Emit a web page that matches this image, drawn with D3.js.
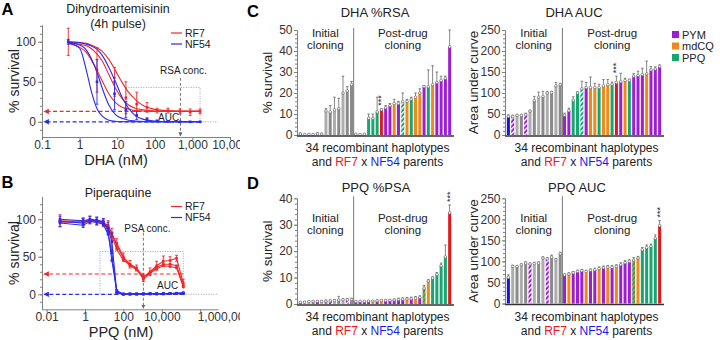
<!DOCTYPE html>
<html>
<head>
<meta charset="utf-8">
<script src="https://cdn.jsdelivr.net/npm/d3@7"></script>
<style>
body { margin: 0; background: #fff; }
svg { font-family: "Liberation Sans", Arial, sans-serif; }
.ax path, .ax line { stroke: #808080; }
.ax text { fill: #333; font-size: 12px; }
</style>
</head>
<body>
<div id="chart"></div>
<script>
// ---------- panel A : DHA 4h pulse dose response ----------
var dhaCurveConc = [0.5, 1, 1.5, 2, 3, 4, 6, 9, 14, 20, 30, 50, 100, 200, 500, 1600];
var dhaCurvesRF7 = [
    [98, 93, 87, 78, 63, 51, 35, 24, 18, 16, 14, 13.5, 13, 13, 13, 13],
    [99, 97, 95, 92, 84, 76, 59, 42, 28, 21, 17, 15, 13.5, 13, 13, 13],
    [100, 99, 98, 96, 92, 88, 78, 64, 48, 37, 28, 20, 15.5, 14, 13, 13]
];
var dhaCurvesNF54 = [
    [99, 92, 65, 40, 15, 7, 2, 0.6, 0.2, 0, 0, 0, 0, 0, 0, 0],
    [99.5, 96, 90, 80, 60, 42, 21, 9, 4, 2, 1, 0.3, 0, 0, 0, 0],
    [100, 99, 97, 95, 90, 83, 68, 50, 29, 17, 8, 3, 1, 0, 0, 0]
];
var dhaConc = [0.5, 2.9, 8.5, 17, 33, 62, 115, 225, 470, 870, 1600];
var dhaRF7 = [100, 65, 50, 30, 22, 18, 14, 14, 13, 12, 13];
var dhaRF7Err = [17, 28, 18, 20, 15, 6, 3, 3, 3, 4, 3];
var dhaNF54 = [100, 50, 35, 15, 8, 3, 1, 0.5, 0, 0, 0];
var dhaNF54Err = [3, 28, 20, 10, 5, 2, 1, 0.5, 0.5, 0.5, 0.5];
var dhaBottom = [13, 0];          // RF7, NF54 survival level (dashed arrows)
var rsaConc = 480;
var dhaAucBox = [17, 1600, 43];   // from conc, to conc, top %

// ---------- panel B : piperaquine dose response ----------
var ppqConc = [0.05, 0.8, 1.8, 4.1, 9, 16, 25, 45, 100, 220, 490, 1100, 2450, 5400, 12000, 27000, 59000, 132000];
var ppqRF7 = [
    [98, 97, 99, 97, 95, 92, 80, 68, 50, 40, 35, 22, 30, 38, 44, 45, 48, 15],
    [97, 95, 98, 98, 96, 90, 82, 65, 48, 38, 33, 20, 28, 36, 40, 40, 38, 12],
    [96, 98, 97, 96, 94, 88, 78, 60, 45, 40, 33, 24, 28, 34, 38, 37, 35, 10]
];
var ppqNF54 = [
    [97, 95, 99, 98, 96, 88, 70, 3, 0.5, 0.5, 0.5, 0.5, 1, 0.5, 1, 1, 1, 1.5],
    [95, 92, 97, 96, 93, 80, 55, 2, 0, 0, 0, 0.5, 0.5, 0.5, 0.5, 1, 1, 1],
    [100, 98, 100, 99, 97, 84, 45, 5, 0, 0.5, 0.5, 0.5, 0.5, 1, 0.5, 1, 1.5, 2]
];
var ppqRF7Err = [8, 5, 5, 5, 5, 6, 8, 6, 5, 5, 4, 5, 5, 6, 7, 5, 4, 5];
var ppqNF54Err = [7, 6, 5, 5, 5, 8, 12, 3, 1, 1, 1, 1, 1, 1, 1, 1, 1, 1];
var ppqBottom = [27, 0];
var psaConc = 1100;
var ppqAucBox = [6, 132000, 57];

// ---------- bar panels : 34 recombinant haplotypes + 2 parents ----------
// N NF54, R RF7, G/D grey, P PYM, O mdCQ, Q PPQ, p/q hatched PYM/PPQ, x hatched PPQ/mdCQ
var nInitial = 13;
var dhaRsaVals = [0.5, 0.2, 0.3, 0.2, 0.6, 0.4, 11.5, 11, 12, 12.5, 20, 21, 24,
    0.4, 0.2, 0.4, 8, 8, 11, 12, 13, 14, 15, 15, 16, 16, 17, 18, 20, 23, 23, 24, 25, 26, 27, 42];
var dhaRsaErr = [0.5, 0.3, 0.3, 0.3, 0.5, 0.5, 1, 3, 6, 5, 8, 2, 1.5,
    0.3, 0.3, 0.3, 2, 2, 7, 0.5, 1, 1, 2, 1, 4, 1, 1, 2, 2, 0.5, 8, 9, 5, 2, 1, 8];
var dhaRsaCats = ['N', 'G', 'p', 'G', 'p', 'G', 'G', 'D', 'G', 'D', 'G', 'D', 'D',
    'P', 'P', 'O', 'Q', 'Q', 'Q', 'R', 'P', 'P', 'O', 'P', 'q', 'O', 'Q', 'O', 'O', 'P', 'Q', 'O', 'P', 'P', 'P', 'P'];

var dhaAucVals = [44, 44, 47, 47, 48, 57, 82, 90, 92, 100, 101, 117, 120,
    47, 58, 83, 100, 110, 113, 113, 113, 113, 117, 120, 121, 125, 127, 130, 130, 140, 142, 144, 146, 155, 157, 163];
var dhaAucErr = [4, 3, 2, 2, 4, 2, 10, 12, 12, 3, 3, 8, 3,
    5, 6, 8, 3, 18, 12, 25, 10, 8, 15, 12, 5, 15, 20, 5, 3, 6, 10, 15, 30, 8, 5, 4];
var dhaAucCats = ['N', 'p', 'G', 'D', 'p', 'G', 'D', 'G', 'D', 'G', 'D', 'G', 'D',
    'P', 'P', 'Q', 'Q', 'q', 'P', 'O', 'O', 'Q', 'O', 'O', 'Q', 'R', 'P', 'O', 'Q', 'P', 'P', 'P', 'O', 'P', 'P', 'P'];

var ppqPsaVals = [0.6, 0.7, 0.9, 1, 1, 1, 1.1, 1.2, 1.3, 1.5, 1.6, 1.6, 1.7,
    0.9, 1, 1, 1.1, 1.1, 1.2, 1.3, 1.3, 1.4, 1.5, 1.7, 1.8, 1.9, 2, 2.2, 2.5, 6, 8.7, 9.8, 11.2, 14.5, 17.8, 34.5];
var ppqPsaErr = [0.3, 0.3, 0.3, 0.3, 0.3, 0.3, 0.4, 0.3, 0.4, 1.4, 0.4, 0.5, 0.5,
    0.2, 0.2, 0.2, 0.2, 0.2, 0.3, 0.3, 0.3, 0.3, 0.4, 0.5, 0.5, 0.5, 0.6, 0.6, 0.6, 1, 0.5, 0.5, 0.7, 1, 4.5, 3];
var ppqPsaCats = ['N', 'G', 'G', 'D', 'P', 'G', 'D', 'p', 'G', 'D', 'G', 'p', 'D',
    'P', 'P', 'P', 'P', 'O', 'P', 'O', 'P', 'P', 'P', 'P', 'P', 'O', 'P', 'O', 'P', 'x', 'O', 'Q', 'Q', 'Q', 'Q', 'R'];

var ppqAucVals = [62, 88, 88, 92, 96, 94, 95, 96, 108, 106, 110, 104, 118,
    68, 70, 73, 76, 78, 76, 79, 80, 83, 85, 86, 86, 88, 92, 97, 100, 103, 108, 128, 133, 136, 155, 185];
var ppqAucErr = [6, 3, 2, 2, 3, 2, 3, 3, 3, 3, 5, 3, 4,
    2, 3, 3, 3, 3, 3, 3, 4, 4, 4, 4, 4, 4, 5, 5, 4, 6, 4, 5, 6, 5, 8, 12];
var ppqAucCats = ['N', 'G', 'D', 'G', 'D', 'p', 'G', 'D', 'G', 'p', 'D', 'G', 'D',
    'P', 'O', 'P', 'P', 'P', 'O', 'P', 'P', 'O', 'P', 'O', 'P', 'O', 'P', 'P', 'P', 'x', 'O', 'Q', 'Q', 'Q', 'Q', 'R'];

var legendNames = ['PYM', 'mdCQ', 'PPQ'];
var legendCats = ['P', 'O', 'Q'];

var catColor = {
    N: '#1414e0', R: '#e5161d', G: '#adadad', D: '#8a8a8a',
    P: '#9a1fd3', O: '#f0891a', Q: '#17a673',
    p: 'url(#hatchP)', q: 'url(#hatchQ)', x: 'url(#hatchX)'
};
var red = '#f0282d', blue = '#2a2af0';

var svg = d3.select('#chart').append('svg').attr('width', 720).attr('height', 340);
svg.append('rect').attr('width', 720).attr('height', 340).attr('fill', '#fff');
var defs = svg.append('defs');
defs.append('clipPath').attr('id', 'leftClip').append('rect').attr('width', 240).attr('height', 340);

function hatch(id, bg, fg) {
    var p = defs.append('pattern').attr('id', id).attr('patternUnits', 'userSpaceOnUse')
        .attr('width', 3.4).attr('height', 3.4).attr('patternTransform', 'rotate(45)');
    p.append('rect').attr('width', 3.4).attr('height', 3.4).attr('fill', bg);
    p.append('rect').attr('width', 1.3).attr('height', 3.4).attr('fill', fg);
}
hatch('hatchP', '#9a1fd3', '#fff');
hatch('hatchQ', '#17a673', '#fff');
hatch('hatchX', '#17a673', '#f0891a');

function arrowMarker(id, color) {
    defs.append('marker').attr('id', id).attr('viewBox', '0 0 10 10')
        .attr('refX', 9).attr('refY', 5).attr('markerWidth', 4.5).attr('markerHeight', 4.5)
        .attr('orient', 'auto')
        .append('path').attr('d', 'M0,0L10,5L0,10z').attr('fill', color);
}
arrowMarker('arRed', red);
arrowMarker('arBlue', blue);
arrowMarker('arGrey', '#666');

function label(g, txt, x, y, size, opts) {
    opts = opts || {};
    return g.append('text').attr('x', x).attr('y', y).text(txt)
        .attr('font-size', size).attr('fill', opts.fill || '#222')
        .attr('font-weight', opts.bold ? 'bold' : null)
        .attr('text-anchor', opts.anchor || 'middle');
}

// ---------------- dose-response panels ----------------
function dosePanel(p) {
    var g = svg.append('g').attr('clip-path', 'url(#leftClip)');
    var x = d3.scaleLog().domain(p.xDomain).range([42, p.right]);
    var y = d3.scaleLinear().domain(p.yDomain).range([p.bottom, p.top]);

    g.append('g').attr('class', 'ax').attr('transform', 'translate(42,0)')
        .call(d3.axisLeft(y).tickValues(d3.range(-10, p.yDomain[1], 10)).tickSize(2).tickSizeOuter(0).tickFormat(''));
    g.append('g').attr('class', 'ax').attr('transform', 'translate(42,0)')
        .call(d3.axisLeft(y).tickValues([0, 50, 100]).tickSize(4).tickSizeOuter(0).tickPadding(2))
        .selectAll('text').attr('font-size', 12.5);
    var xa = g.append('g').attr('class', 'ax').attr('transform', 'translate(0,' + p.bottom + ')')
        .call(d3.axisBottom(x).tickValues(p.xTicks).tickSize(3).tickSizeOuter(0).tickPadding(0).tickFormat(d3.format(',')));
    xa.selectAll('text').attr('font-size', 12);
    if (p.lastStart) {
        xa.selectAll('.tick:last-of-type text').attr('text-anchor', 'start').attr('dx', -3);
    }

    // AUC box and extended zero line
    g.append('rect').attr('x', x(p.box[0])).attr('y', y(p.box[2]))
        .attr('width', x(p.box[1]) - x(p.box[0])).attr('height', y(0) - y(p.box[2]))
        .attr('fill', 'none').attr('stroke', '#888').attr('stroke-width', 0.8).attr('stroke-dasharray', '1,1.5');
    g.append('line').attr('x1', x(p.box[1])).attr('x2', p.zeroEnd).attr('y1', y(0)).attr('y2', y(0))
        .attr('stroke', '#888').attr('stroke-width', 0.8).attr('stroke-dasharray', '1,1.5');
    label(g, 'AUC', p.aucX, p.aucY, 10, { anchor: 'start' });

    // conc marker
    g.append('line').attr('x1', x(p.conc)).attr('x2', x(p.conc)).attr('y1', y(p.concTop)).attr('y2', p.bottom - 1)
        .attr('stroke', '#666').attr('stroke-width', 0.9).attr('stroke-dasharray', '3,2')
        .attr('marker-end', 'url(#arGrey)');
    label(g, p.concLabel, x(p.conc) + p.concDx, p.concY, 10);

    // dashed survival arrows
    var lastX = x(p.box[1]);
    [[p.bottoms[0], red, 'arRed'], [p.bottoms[1], blue, 'arBlue']].forEach(function (b) {
        g.append('line').attr('x1', lastX).attr('x2', 44).attr('y1', y(b[0])).attr('y2', y(b[0]))
            .attr('stroke', b[1]).attr('stroke-width', 1.2).attr('stroke-dasharray', '4,2.5')
            .attr('marker-end', 'url(#' + b[2] + ')');
    });

    var line = d3.line().x(function (d) { return x(d[0]); }).y(function (d) { return y(d[1]); })
        .curve(p.smooth ? d3.curveMonotoneX : d3.curveLinear);

    [[p.rf7Lines, red], [p.nf54Lines, blue]].forEach(function (s) {
        s[0].forEach(function (vals) {
            g.append('path').datum(vals.map(function (v, i) { return [p.lineConc[i], v]; }))
                .attr('d', line).attr('fill', 'none').attr('stroke', s[1]).attr('stroke-width', 1.1);
        });
    });

    // points with error bars
    [[p.rf7Pts, p.rf7Err, red], [p.nf54Pts, p.nf54Err, blue]].forEach(function (s) {
        s[0].forEach(function (reps, r) {
            reps.forEach(function (v, i) {
                var cx = x(p.ptConc[i]);
                if (r === 0) {
                    var e = s[1][i];
                    g.append('line').attr('x1', cx).attr('x2', cx).attr('y1', y(v - e)).attr('y2', y(v + e))
                        .attr('stroke', s[2]).attr('stroke-width', 0.9);
                    [v - e, v + e].forEach(function (c) {
                        g.append('line').attr('x1', cx - 1.5).attr('x2', cx + 1.5).attr('y1', y(c)).attr('y2', y(c))
                            .attr('stroke', s[2]).attr('stroke-width', 0.9);
                    });
                }
                g.append('rect').attr('x', cx - 1.3).attr('y', y(v) - 1.3).attr('width', 2.6).attr('height', 2.6)
                    .attr('fill', s[2]);
            });
        });
    });

    // legend
    [['RF7', red], ['NF54', blue]].forEach(function (l, i) {
        var ly = p.legY + i * 11;
        g.append('line').attr('x1', 171).attr('x2', 182).attr('y1', ly).attr('y2', ly)
            .attr('stroke', l[1]).attr('stroke-width', 1.2);
        label(g, l[0], 185, ly + 3.5, 10.5, { anchor: 'start' });
    });

    g.append('text').attr('transform', 'translate(19,' + ((p.top + p.bottom) / 2) + ') rotate(-90)')
        .attr('text-anchor', 'middle').attr('font-size', 14).attr('fill', '#222').text('% survival');
    label(g, p.xTitle, p.xTitleX, p.xTitleY, 14.5);
    p.title.forEach(function (t, i) { label(g, t, 118, p.titleY + i * 14.5, 12.5); });
    label(g, p.letter, 1.5, p.letterY, 16.5, { bold: true, anchor: 'start', fill: '#000' });
}

dosePanel({
    xDomain: [0.1, 10000], right: 230, yDomain: [-19, 121], top: 25, bottom: 137,
    xTicks: [0.1, 1, 10, 100, 1000, 10000],
    box: dhaAucBox, zeroEnd: 218, aucX: 158, aucY: 121,
    conc: rsaConc, concTop: 55, concLabel: 'RSA conc.', concDx: 3, concY: 74,
    bottoms: dhaBottom, smooth: true,
    lineConc: dhaCurveConc, rf7Lines: dhaCurvesRF7, nf54Lines: dhaCurvesNF54,
    ptConc: dhaConc, rf7Pts: [dhaRF7], rf7Err: dhaRF7Err, nf54Pts: [dhaNF54], nf54Err: dhaNF54Err,
    legY: 33, xTitle: 'DHA (nM)', xTitleX: 116, xTitleY: 165,
    title: ['Dihydroartemisinin', '(4h pulse)'], titleY: 13, letter: 'A', letterY: 15
});

dosePanel({
    xDomain: [0.00575, 8.5e6], right: 218, yDomain: [-20, 130], top: 196.7, bottom: 309.3,
    xTicks: [0.01, 1, 100, 10000, 1000000], lastStart: true,
    box: ppqAucBox, zeroEnd: 218, aucX: 157, aucY: 289,
    conc: psaConc, concTop: 82, concLabel: 'PSA conc.', concDx: 4, concY: 232,
    bottoms: ppqBottom, smooth: false,
    lineConc: ppqConc, rf7Lines: ppqRF7, nf54Lines: ppqNF54,
    ptConc: ppqConc, rf7Pts: ppqRF7, rf7Err: ppqRF7Err, nf54Pts: ppqNF54, nf54Err: ppqNF54Err,
    legY: 206.5, xTitle: 'PPQ (nM)', xTitleX: 121, xTitleY: 336.5,
    title: ['Piperaquine'], titleY: 197, letter: 'B', letterY: 188
});

// ---------------- bar panels ----------------
function barPanel(p) {
    var g = svg.append('g');
    var n = p.values.length;
    var x = d3.scaleBand().domain(d3.range(n)).range([p.x0 + 1, p.x1]).paddingInner(0.3).paddingOuter(0.2);
    var y = d3.scaleLinear().domain([0, p.max]).range([p.y0, p.yTop]);
    var bw = x.bandwidth();

    g.append('g').attr('class', 'ax').attr('transform', 'translate(' + p.x0 + ',0)')
        .call(d3.axisLeft(y).tickValues(d3.range(0, p.max + 1e-6, p.minor)).tickSize(2).tickSizeOuter(0).tickFormat(''));
    g.append('g').attr('class', 'ax').attr('transform', 'translate(' + p.x0 + ',0)')
        .call(d3.axisLeft(y).tickValues(d3.range(0, p.max + 1e-6, p.major)).tickSize(3).tickSizeOuter(0).tickPadding(1.5))
        .selectAll('text').attr('font-size', 12.5);

    var sepX = (x(nInitial - 1) + bw + x(nInitial)) / 2;
    g.append('line').attr('x1', sepX).attr('x2', sepX).attr('y1', p.yTop - 2).attr('y2', p.y0)
        .attr('stroke', '#777').attr('stroke-width', 1);

    // error whiskers (upper)
    p.values.forEach(function (v, i) {
        var cx = x(i) + bw / 2, top = y(v + p.errs[i]);
        g.append('line').attr('x1', cx).attr('x2', cx).attr('y1', y(v)).attr('y2', top)
            .attr('stroke', '#555').attr('stroke-width', 0.7);
        g.append('line').attr('x1', cx - 1.3).attr('x2', cx + 1.3).attr('y1', top).attr('y2', top)
            .attr('stroke', '#555').attr('stroke-width', 0.7);
    });

    g.selectAll('rect.bar').data(p.values).enter().append('rect').attr('class', 'bar')
        .attr('x', function (d, i) { return x(i); })
        .attr('y', function (d) { return y(d); })
        .attr('width', bw)
        .attr('height', function (d) { return p.y0 - y(d); })
        .attr('fill', function (d, i) { return catColor[p.cats[i]]; });

    g.selectAll('circle.pt').data(p.values).enter().append('circle').attr('class', 'pt')
        .attr('cx', function (d, i) { return x(i) + bw / 2; })
        .attr('cy', function (d) { return y(d); })
        .attr('r', 1.3).attr('fill', '#fff').attr('stroke', '#555').attr('stroke-width', 0.6);

    // significance stars above RF7
    var ri = p.cats.indexOf('R');
    g.append('text')
        .attr('transform', 'translate(' + (x(ri) + bw / 2 + 3) + ',' + (y(p.values[ri] + p.errs[ri]) - 3) + ') rotate(-90)')
        .attr('font-size', 9).attr('fill', '#222').text('***');

    g.append('line').attr('x1', p.x0).attr('x2', p.x1 + 2).attr('y1', p.y0 + 1).attr('y2', p.y0 + 1)
        .attr('stroke', '#333').attr('stroke-width', 1.6);

    var initC = (p.x0 + sepX) / 2, postC = (sepX + p.x1) / 2;
    label(g, 'Initial', initC, p.secY, 11.5);
    label(g, 'cloning', initC, p.secY + 12, 11.5);
    label(g, 'Post-drug', postC, p.secY, 11.5);
    label(g, 'cloning', postC, p.secY + 12, 11.5);

    label(g, p.title, p.titleX, p.titleY, 13);
    g.append('text').attr('transform', 'translate(' + p.ylabX + ',' + ((p.y0 + p.yTop) / 2) + ') rotate(-90)')
        .attr('text-anchor', 'middle').attr('font-size', 13.5).attr('fill', '#222').text(p.ylab);

    var cX = (p.x0 + p.x1) / 2 + 3;
    label(g, '34 recombinant haplotypes', cX, p.textY, 12);
    var t = g.append('text').attr('x', cX).attr('y', p.textY + 14).attr('font-size', 12)
        .attr('text-anchor', 'middle').attr('fill', '#222');
    [['and ', '#222'], ['RF7', '#f0141c'], [' x ', '#222'], ['NF54', '#1a1af0'], [' parents', '#222']]
        .forEach(function (s) { t.append('tspan').attr('fill', s[1]).text(s[0]); });
}

barPanel({ values: dhaRsaVals, errs: dhaRsaErr, cats: dhaRsaCats, x0: 297, x1: 452, y0: 135, yTop: 30,
    max: 50, major: 10, minor: 2, title: 'DHA %RSA', titleX: 375, titleY: 17, ylab: '% survival', ylabX: 272,
    secY: 36.5, textY: 152 });
barPanel({ values: dhaAucVals, errs: dhaAucErr, cats: dhaAucCats, x0: 505, x1: 662, y0: 135, yTop: 30,
    max: 250, major: 50, minor: 10, title: 'DHA AUC', titleX: 574, titleY: 17, ylab: 'Area under curve', ylabX: 478,
    secY: 36.5, textY: 152 });
barPanel({ values: ppqPsaVals, errs: ppqPsaErr, cats: ppqPsaCats, x0: 297, x1: 452, y0: 304, yTop: 198.3,
    max: 40, major: 10, minor: 2, title: 'PPQ %PSA', titleX: 376, titleY: 192, ylab: '% survival', ylabX: 272,
    secY: 221.5, textY: 321 });
barPanel({ values: ppqAucVals, errs: ppqAucErr, cats: ppqAucCats, x0: 505, x1: 662, y0: 303.5, yTop: 198.3,
    max: 250, major: 50, minor: 10, title: 'PPQ AUC', titleX: 577, titleY: 192, ylab: 'Area under curve', ylabX: 478,
    secY: 221.5, textY: 321 });

label(svg, 'C', 247, 17, 16.5, { bold: true, anchor: 'start', fill: '#000' });
label(svg, 'D', 247, 189, 16.5, { bold: true, anchor: 'start', fill: '#000' });

// legend for selection drug
legendNames.forEach(function (name, i) {
    var ly = 34.5 + i * 11.5;
    svg.append('rect').attr('x', 672).attr('y', ly - 3.5).attr('width', 7).attr('height', 7)
        .attr('fill', catColor[legendCats[i]]);
    label(svg, name, 682, ly + 4, 11, { anchor: 'start' });
});
</script>
</body>
</html>
